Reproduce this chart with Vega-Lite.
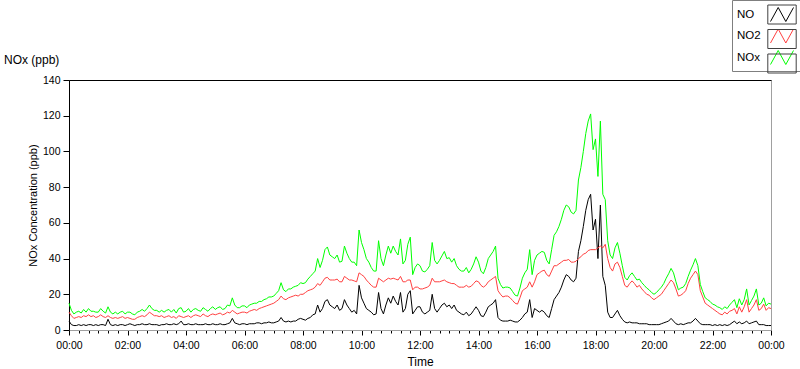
{
  "$schema": "https://vega.github.io/schema/vega-lite/v6.json",
  "autosize": {"type": "none"},
  "padding": {"left": 69, "top": 80, "right": 29, "bottom": 39},
  "width": 702,
  "height": 250,
  "background": "#ffffff",
  "config": {"view": {"stroke": "#a0a0a0", "strokeWidth": 1}, "font": "Liberation Sans"},
  "title": {"text": "NOx (ppb)", "anchor": "start", "frame": "group", "dx": -65, "offset": -79, "baseline": "bottom", "fontSize": 12, "fontWeight": "normal", "color": "#000000", "font": "Liberation Sans"},
  "data": {"values": [
    {"t":0,"NO":5,"NO2":10,"NOx":15},{"t":5,"NO":3,"NO2":8,"NOx":11},{"t":10,"NO":2.5,"NO2":6.5,"NOx":9},{"t":15,"NO":2.5,"NO2":7,"NOx":10},
    {"t":20,"NO":3,"NO2":7.5,"NOx":10.5},{"t":25,"NO":2.5,"NO2":7,"NOx":9.5},{"t":30,"NO":3,"NO2":8,"NOx":11.5},{"t":35,"NO":2.5,"NO2":7.5,"NOx":10},
    {"t":40,"NO":3,"NO2":8.5,"NOx":12},{"t":45,"NO":3,"NO2":7.5,"NOx":10.5},{"t":50,"NO":2.5,"NO2":8,"NOx":10.5},{"t":55,"NO":3,"NO2":7,"NOx":10},
    {"t":60,"NO":2.5,"NO2":7.5,"NOx":10},{"t":65,"NO":3,"NO2":8.5,"NOx":12},{"t":70,"NO":3,"NO2":7.5,"NOx":10.5},{"t":75,"NO":2.5,"NO2":7,"NOx":9.5},
    {"t":80,"NO":6,"NO2":8,"NOx":13},{"t":85,"NO":3,"NO2":7,"NOx":10},{"t":90,"NO":2.5,"NO2":6.5,"NOx":9},{"t":95,"NO":3,"NO2":7,"NOx":10},
    {"t":100,"NO":2.5,"NO2":6.5,"NOx":9},{"t":105,"NO":3,"NO2":7,"NOx":10},{"t":110,"NO":3,"NO2":7.5,"NOx":10.5},{"t":115,"NO":2.5,"NO2":6.5,"NOx":9},
    {"t":120,"NO":3,"NO2":7,"NOx":10},{"t":125,"NO":3.5,"NO2":6.5,"NOx":10},{"t":130,"NO":3,"NO2":6,"NOx":9},{"t":135,"NO":2.5,"NO2":6,"NOx":8.5},
    {"t":140,"NO":3,"NO2":7,"NOx":10},{"t":145,"NO":3,"NO2":7.5,"NOx":10.5},{"t":150,"NO":3.5,"NO2":8,"NOx":11.5},{"t":155,"NO":3,"NO2":7.5,"NOx":10.5},
    {"t":160,"NO":3,"NO2":8.5,"NOx":12},{"t":165,"NO":3.5,"NO2":10,"NOx":14},{"t":170,"NO":3,"NO2":9,"NOx":12},{"t":175,"NO":3,"NO2":8,"NOx":11},
    {"t":180,"NO":3,"NO2":8,"NOx":11},{"t":185,"NO":2.5,"NO2":7.5,"NOx":10},{"t":190,"NO":3,"NO2":8,"NOx":11},{"t":195,"NO":3,"NO2":7,"NOx":10},
    {"t":200,"NO":3.5,"NO2":7.5,"NOx":11},{"t":205,"NO":3,"NO2":8,"NOx":11.5},{"t":210,"NO":3,"NO2":7,"NOx":10},{"t":215,"NO":3.5,"NO2":7.5,"NOx":11.5},
    {"t":220,"NO":3,"NO2":6.5,"NOx":9.5},{"t":225,"NO":3.5,"NO2":8,"NOx":12},{"t":230,"NO":5,"NO2":7.5,"NOx":12.5},{"t":235,"NO":3,"NO2":7,"NOx":10},
    {"t":240,"NO":3,"NO2":7.5,"NOx":10.5},{"t":245,"NO":3.5,"NO2":8,"NOx":12},{"t":250,"NO":3,"NO2":7,"NOx":10},{"t":255,"NO":3,"NO2":8,"NOx":11.5},
    {"t":260,"NO":3.5,"NO2":8.5,"NOx":12},{"t":265,"NO":3,"NO2":8,"NOx":11},{"t":270,"NO":3,"NO2":7.5,"NOx":10.5},{"t":275,"NO":3,"NO2":9,"NOx":12.5},
    {"t":280,"NO":3.5,"NO2":8,"NOx":11.5},{"t":285,"NO":3,"NO2":7.5,"NOx":10.5},{"t":290,"NO":3,"NO2":8.5,"NOx":12},{"t":295,"NO":3.5,"NO2":9,"NOx":13},
    {"t":300,"NO":3,"NO2":8.5,"NOx":11.5},{"t":305,"NO":3,"NO2":9,"NOx":12.5},{"t":310,"NO":3.5,"NO2":9.5,"NOx":13},{"t":315,"NO":3,"NO2":8.5,"NOx":11.5},
    {"t":320,"NO":3,"NO2":9,"NOx":12},{"t":325,"NO":3.5,"NO2":10,"NOx":14},{"t":330,"NO":4,"NO2":9.5,"NOx":13.5},{"t":335,"NO":6.5,"NO2":11,"NOx":18},
    {"t":340,"NO":4,"NO2":10,"NOx":14},{"t":345,"NO":3.5,"NO2":9,"NOx":12.5},{"t":350,"NO":3,"NO2":9.5,"NOx":12.5},{"t":355,"NO":3.5,"NO2":10,"NOx":13.5},
    {"t":360,"NO":3.5,"NO2":10,"NOx":13.5},{"t":365,"NO":3,"NO2":9.5,"NOx":12.5},{"t":370,"NO":3.5,"NO2":10.5,"NOx":14},{"t":375,"NO":3.5,"NO2":11,"NOx":14.5},
    {"t":380,"NO":3.5,"NO2":11.5,"NOx":15},{"t":385,"NO":4,"NO2":11,"NOx":15},{"t":390,"NO":4,"NO2":12,"NOx":16},{"t":395,"NO":3.5,"NO2":12.5,"NOx":16},
    {"t":400,"NO":4,"NO2":13,"NOx":17},{"t":405,"NO":4,"NO2":13.5,"NOx":17.5},{"t":410,"NO":4.5,"NO2":14,"NOx":18.5},{"t":415,"NO":4,"NO2":14.5,"NOx":18.5},
    {"t":420,"NO":4,"NO2":15,"NOx":19},{"t":425,"NO":4.5,"NO2":16,"NOx":20.5},{"t":430,"NO":5,"NO2":17,"NOx":22},{"t":435,"NO":7,"NO2":19,"NOx":26.5},
    {"t":440,"NO":5,"NO2":17.5,"NOx":22.5},{"t":445,"NO":4.5,"NO2":17,"NOx":21.5},{"t":450,"NO":5,"NO2":18,"NOx":23},{"t":455,"NO":4.5,"NO2":18.5,"NOx":23},
    {"t":460,"NO":5,"NO2":19,"NOx":24},{"t":465,"NO":5,"NO2":19.5,"NOx":24.5},{"t":470,"NO":6,"NO2":19,"NOx":25},{"t":475,"NO":6.5,"NO2":20,"NOx":26.5},
    {"t":480,"NO":6,"NO2":20,"NOx":26},{"t":485,"NO":5.5,"NO2":21,"NOx":26.5},{"t":490,"NO":6.5,"NO2":22,"NOx":28.5},{"t":495,"NO":7,"NO2":22.5,"NOx":30},
    {"t":500,"NO":8.5,"NO2":23,"NOx":31.5},{"t":505,"NO":9,"NO2":24,"NOx":33},{"t":510,"NO":14,"NO2":26,"NOx":40},{"t":515,"NO":10,"NO2":25,"NOx":35},
    {"t":520,"NO":12,"NO2":27,"NOx":39},{"t":525,"NO":16,"NO2":29,"NOx":45},{"t":530,"NO":17,"NO2":29.5,"NOx":46.5},{"t":535,"NO":14,"NO2":28,"NOx":42},
    {"t":540,"NO":13,"NO2":28,"NOx":41},{"t":545,"NO":12,"NO2":28,"NOx":40},{"t":550,"NO":14,"NO2":28.5,"NOx":42},{"t":555,"NO":11,"NO2":27,"NOx":38},
    {"t":560,"NO":12,"NO2":27,"NOx":38.5},{"t":565,"NO":17,"NO2":30,"NOx":47},{"t":570,"NO":14,"NO2":29,"NOx":43},{"t":575,"NO":12,"NO2":28,"NOx":40},
    {"t":580,"NO":10,"NO2":28,"NOx":38},{"t":585,"NO":11,"NO2":27.5,"NOx":38},{"t":590,"NO":9,"NO2":27,"NOx":36},{"t":595,"NO":25,"NO2":32,"NOx":56},
    {"t":600,"NO":18,"NO2":31,"NOx":49},{"t":605,"NO":15,"NO2":30,"NOx":45},{"t":610,"NO":12,"NO2":28,"NOx":40},{"t":615,"NO":11,"NO2":26.5,"NOx":38},
    {"t":620,"NO":10,"NO2":25,"NOx":35},{"t":625,"NO":8.5,"NO2":24,"NOx":33},{"t":630,"NO":9,"NO2":24,"NOx":33},{"t":635,"NO":21,"NO2":29,"NOx":50},
    {"t":640,"NO":12,"NO2":28,"NOx":40},{"t":645,"NO":9,"NO2":27,"NOx":36},{"t":650,"NO":14,"NO2":28,"NOx":42},{"t":655,"NO":18,"NO2":29,"NOx":47},
    {"t":660,"NO":15,"NO2":28.5,"NOx":43},{"t":665,"NO":19,"NO2":29,"NOx":47},{"t":670,"NO":16,"NO2":28.5,"NOx":44},{"t":675,"NO":14,"NO2":28,"NOx":42},
    {"t":680,"NO":21,"NO2":30,"NOx":51},{"t":685,"NO":10,"NO2":27,"NOx":37},{"t":690,"NO":12,"NO2":27,"NOx":39},{"t":695,"NO":20,"NO2":28,"NOx":48},
    {"t":700,"NO":22,"NO2":28,"NOx":52},{"t":705,"NO":9,"NO2":22.5,"NOx":31},{"t":710,"NO":11,"NO2":24,"NOx":35},{"t":715,"NO":13,"NO2":24,"NOx":37},
    {"t":720,"NO":13,"NO2":23,"NOx":36},{"t":725,"NO":10,"NO2":23,"NOx":33},{"t":730,"NO":9,"NO2":23.5,"NOx":32.5},{"t":735,"NO":10,"NO2":24,"NOx":34},
    {"t":740,"NO":11,"NO2":25,"NOx":36},{"t":745,"NO":20,"NO2":29,"NOx":49},{"t":750,"NO":12,"NO2":27,"NOx":39},{"t":755,"NO":10,"NO2":27,"NOx":37},
    {"t":760,"NO":12,"NO2":27,"NOx":39},{"t":765,"NO":14,"NO2":27.5,"NOx":41.5},{"t":770,"NO":15,"NO2":28,"NOx":44},{"t":775,"NO":13,"NO2":27,"NOx":40},
    {"t":780,"NO":14,"NO2":26.5,"NOx":40.5},{"t":785,"NO":12,"NO2":26,"NOx":38},{"t":790,"NO":14,"NO2":26,"NOx":40},{"t":795,"NO":11,"NO2":25,"NOx":36},
    {"t":800,"NO":10,"NO2":24,"NOx":34},{"t":805,"NO":9,"NO2":24,"NOx":33},{"t":810,"NO":8.5,"NO2":24,"NOx":33},{"t":815,"NO":10,"NO2":25,"NOx":35},
    {"t":820,"NO":8,"NO2":24,"NOx":32},{"t":825,"NO":9,"NO2":24.5,"NOx":34},{"t":830,"NO":11,"NO2":26,"NOx":37},{"t":835,"NO":13,"NO2":27.5,"NOx":41},
    {"t":840,"NO":11,"NO2":27,"NOx":38},{"t":845,"NO":8,"NO2":25,"NOx":33},{"t":850,"NO":7.5,"NO2":24,"NOx":31.5},{"t":855,"NO":10,"NO2":25,"NOx":35},
    {"t":860,"NO":13,"NO2":27,"NOx":40},{"t":865,"NO":14,"NO2":28,"NOx":42},{"t":870,"NO":15,"NO2":29,"NOx":44},{"t":875,"NO":17,"NO2":30,"NOx":47},
    {"t":880,"NO":7,"NO2":22,"NOx":29},{"t":885,"NO":5.5,"NO2":20,"NOx":25.5},{"t":890,"NO":5,"NO2":18.5,"NOx":23.5},{"t":895,"NO":5,"NO2":19,"NOx":24},
    {"t":900,"NO":5,"NO2":19,"NOx":24},{"t":905,"NO":5.5,"NO2":18,"NOx":23.5},{"t":910,"NO":5,"NO2":16.5,"NOx":21.5},{"t":915,"NO":4.5,"NO2":15,"NOx":19.5},
    {"t":920,"NO":4.5,"NO2":14.5,"NOx":19},{"t":925,"NO":5.5,"NO2":18,"NOx":23.5},{"t":930,"NO":7,"NO2":22,"NOx":29},{"t":935,"NO":9,"NO2":23,"NOx":32},
    {"t":940,"NO":10,"NO2":24,"NOx":34},{"t":945,"NO":17,"NO2":27,"NOx":45},{"t":950,"NO":7,"NO2":24,"NOx":31},{"t":955,"NO":12,"NO2":27,"NOx":39},
    {"t":960,"NO":11,"NO2":31,"NOx":42},{"t":965,"NO":10,"NO2":32,"NOx":43},{"t":970,"NO":11,"NO2":33,"NOx":44},{"t":975,"NO":10,"NO2":33.5,"NOx":43.5},
    {"t":980,"NO":8,"NO2":31,"NOx":39},{"t":985,"NO":7,"NO2":30,"NOx":37},{"t":990,"NO":12,"NO2":33,"NOx":45},{"t":995,"NO":17,"NO2":36,"NOx":53},
    {"t":1000,"NO":19,"NO2":36,"NOx":55},{"t":1005,"NO":21,"NO2":37,"NOx":58},{"t":1010,"NO":24,"NO2":38,"NOx":62},{"t":1015,"NO":28,"NO2":39,"NOx":67},
    {"t":1020,"NO":31,"NO2":39,"NOx":70},{"t":1025,"NO":30,"NO2":39.5,"NOx":69},{"t":1030,"NO":28,"NO2":38,"NOx":66},{"t":1035,"NO":27,"NO2":38,"NOx":65},
    {"t":1040,"NO":29,"NO2":38.5,"NOx":67},{"t":1045,"NO":44,"NO2":40,"NOx":84},{"t":1050,"NO":50,"NO2":41,"NOx":91},{"t":1055,"NO":58,"NO2":42.5,"NOx":100},
    {"t":1060,"NO":67,"NO2":43,"NOx":110},{"t":1065,"NO":73,"NO2":44.5,"NOx":117},{"t":1070,"NO":76,"NO2":45,"NOx":121},{"t":1075,"NO":56,"NO2":45,"NOx":101},
    {"t":1080,"NO":62,"NO2":45,"NOx":107},{"t":1085,"NO":40,"NO2":46,"NOx":86},{"t":1090,"NO":70,"NO2":47,"NOx":117},{"t":1095,"NO":30,"NO2":46,"NOx":76},
    {"t":1100,"NO":25,"NO2":48,"NOx":73},{"t":1105,"NO":10,"NO2":40,"NOx":50},{"t":1110,"NO":7,"NO2":35,"NOx":42},{"t":1115,"NO":7,"NO2":33,"NOx":40},
    {"t":1120,"NO":9,"NO2":37,"NOx":46},{"t":1125,"NO":11,"NO2":38,"NOx":49},{"t":1130,"NO":8,"NO2":35,"NOx":43},{"t":1135,"NO":6,"NO2":30,"NOx":36},
    {"t":1140,"NO":4.5,"NO2":25,"NOx":29.5},{"t":1145,"NO":4,"NO2":24,"NOx":28},{"t":1150,"NO":4.5,"NO2":26,"NOx":30.5},{"t":1155,"NO":4,"NO2":27.5,"NOx":32},
    {"t":1160,"NO":4,"NO2":26,"NOx":30},{"t":1165,"NO":4,"NO2":24,"NOx":28},{"t":1170,"NO":3.5,"NO2":25,"NOx":28.5},{"t":1175,"NO":3.5,"NO2":23,"NOx":26.5},
    {"t":1180,"NO":3.5,"NO2":21.5,"NOx":25},{"t":1185,"NO":3.5,"NO2":20,"NOx":23.5},{"t":1190,"NO":3,"NO2":19.5,"NOx":22.5},{"t":1195,"NO":3,"NO2":18,"NOx":21},
    {"t":1200,"NO":3,"NO2":17,"NOx":20},{"t":1205,"NO":3,"NO2":18,"NOx":21},{"t":1210,"NO":3,"NO2":19,"NOx":22.5},{"t":1215,"NO":3.5,"NO2":20,"NOx":24},
    {"t":1220,"NO":4,"NO2":22,"NOx":26},{"t":1225,"NO":4.5,"NO2":24,"NOx":29},{"t":1230,"NO":5,"NO2":26,"NOx":31.5},{"t":1235,"NO":6.5,"NO2":28,"NOx":34.5},
    {"t":1240,"NO":5,"NO2":26.5,"NOx":32},{"t":1245,"NO":3.5,"NO2":23,"NOx":27},{"t":1250,"NO":3,"NO2":19,"NOx":22.5},{"t":1255,"NO":3.5,"NO2":19.5,"NOx":23.5},
    {"t":1260,"NO":3,"NO2":20.5,"NOx":24},{"t":1265,"NO":3.5,"NO2":22,"NOx":26},{"t":1270,"NO":4,"NO2":26,"NOx":30},{"t":1275,"NO":4,"NO2":29,"NOx":33.5},
    {"t":1280,"NO":5,"NO2":31,"NOx":36.5},{"t":1285,"NO":6.5,"NO2":33,"NOx":40},{"t":1290,"NO":5,"NO2":31,"NOx":36},{"t":1295,"NO":3.5,"NO2":22,"NOx":25.5},
    {"t":1300,"NO":3,"NO2":18.5,"NOx":21.5},{"t":1305,"NO":3,"NO2":15,"NOx":18},{"t":1310,"NO":3,"NO2":14,"NOx":17},{"t":1315,"NO":3,"NO2":13,"NOx":16},
    {"t":1320,"NO":2.5,"NO2":12,"NOx":14.5},{"t":1325,"NO":3,"NO2":11,"NOx":14},{"t":1330,"NO":2.5,"NO2":10,"NOx":13},{"t":1335,"NO":3,"NO2":9,"NOx":12.5},
    {"t":1340,"NO":2.5,"NO2":8.5,"NOx":11.5},{"t":1345,"NO":3,"NO2":10,"NOx":13},{"t":1350,"NO":2.5,"NO2":9,"NOx":12},{"t":1355,"NO":3,"NO2":10.5,"NOx":14},
    {"t":1360,"NO":4,"NO2":11,"NOx":15.5},{"t":1365,"NO":5,"NO2":12,"NOx":17},{"t":1370,"NO":3.5,"NO2":9,"NOx":12.5},{"t":1375,"NO":4.5,"NO2":13,"NOx":17.5},
    {"t":1380,"NO":3.5,"NO2":10,"NOx":14},{"t":1385,"NO":4,"NO2":13,"NOx":17},{"t":1390,"NO":5,"NO2":17,"NOx":23},{"t":1395,"NO":3.5,"NO2":10,"NOx":14},
    {"t":1400,"NO":4,"NO2":12,"NOx":16.5},{"t":1405,"NO":4.5,"NO2":14,"NOx":19},{"t":1410,"NO":5,"NO2":17,"NOx":23},{"t":1415,"NO":3,"NO2":11,"NOx":14},
    {"t":1420,"NO":3,"NO2":12,"NOx":15},{"t":1425,"NO":3,"NO2":14.5,"NOx":18},{"t":1430,"NO":2.5,"NO2":11,"NOx":13.5},{"t":1435,"NO":2.5,"NO2":12.5,"NOx":15},
    {"t":1440,"NO":2.5,"NO2":12,"NOx":14.5}
  ]},
  "transform": [{"fold": ["NO", "NO2", "NOx"], "as": ["series", "ppb"]}],
  "layer": [
    {
      "mark": {"type": "line", "strokeWidth": 1, "interpolate": "linear"},
      "encoding": {
        "x": {"field": "t", "type": "quantitative", "scale": {"domain": [0, 1440], "nice": false, "zero": false},
          "axis": {"orient": "bottom",
            "values": [0,20,40,60,80,100,120,140,160,180,200,220,240,260,280,300,320,340,360,380,400,420,440,460,480,500,520,540,560,580,600,620,640,660,680,700,720,740,760,780,800,820,840,860,880,900,920,940,960,980,1000,1020,1040,1060,1080,1100,1120,1140,1160,1180,1200,1220,1240,1260,1280,1300,1320,1340,1360,1380,1400,1420,1440],
            "labelExpr": "datum.value % 120 === 0 ? timeFormat(datetime(2000, 0, 1, 0, datum.value), '%H:%M') : ''",
            "tickSize": {"condition": {"test": "datum.value % 120 === 0", "value": 5}, "value": 3},
            "tickColor": "#000000", "domainColor": "#a0a0a0", "grid": false,
            "labelFont": "Liberation Sans", "labelFontSize": 10.5, "labelColor": "#000000", "labelPadding": 5, "labelOverlap": false, "labelFlush": false,
            "title": "Time", "titleFont": "Liberation Sans", "titleFontSize": 12, "titleFontWeight": "normal", "titleColor": "#000000", "titlePadding": 6}},
        "y": {"field": "ppb", "type": "quantitative", "scale": {"domain": [0, 140], "nice": false},
          "axis": {"values": [0,20,40,60,80,100,120,140], "tickCount": 8, "tickSize": 6, "tickColor": "#000000", "domainColor": "#000000", "grid": false,
            "labelFont": "Liberation Sans", "labelFontSize": 10.5, "labelColor": "#000000", "labelPadding": 3, "labelOverlap": false,
            "title": "NOx Concentration (ppb)", "titleFont": "Liberation Sans", "titleFontSize": 11, "titleFontWeight": "normal", "titleColor": "#000000", "titlePadding": 4}},
        "color": {"field": "series", "type": "nominal",
          "scale": {"range": ["#000000", "#ff4040", "#00ff00"]},
          "legend": {"orient": "none", "legendX": 663, "legendY": -80, "title": null,
            "symbolType": "M-1.15,0.7L-0.38,-0.7L0.38,0.7L1.15,-0.7",
            "symbolSize": 400, "symbolStrokeWidth": 1, "symbolFillColor": "transparent",
            "symbolOffset": 35.5, "labelOffset": -55.5, "labelFont": "Liberation Sans", "labelFontSize": 11.5, "labelColor": "#000000",
            "rowPadding": 1.5, "padding": 4, "strokeColor": "#7f7f7f", "fillColor": "#ffffff"}}
      }
    },
    {
      "transform": [{"filter": "datum.t === 0"}],
      "mark": {"type": "point", "opacity": 0, "color": "#404040"},
      "encoding": {
        "x": {"field": "t", "type": "quantitative", "axis": {"orient": "top", "ticks": false, "labels": false, "title": null, "domainColor": "#000000", "grid": false}},
        "y": {"field": "ppb", "type": "quantitative",
          "axis": {"values": [0,20,40,60,80,100,120,140], "tickCount": 8, "tickSize": 6, "tickColor": "#000000", "domainColor": "#000000", "grid": false,
            "labelFont": "Liberation Sans", "labelFontSize": 10.5, "labelColor": "#000000", "labelPadding": 3, "labelOverlap": false,
            "title": "NOx Concentration (ppb)", "titleFont": "Liberation Sans", "titleFontSize": 11, "titleFontWeight": "normal", "titleColor": "#000000", "titlePadding": 4}},
        "shape": {"field": "series", "type": "nominal",
          "scale": {"domain": ["NO", "NO2", "NOx"], "range": ["M-1.42,-0.95H1.42V0.95H-1.42Z", "M-1.42,-0.95H1.42V0.95H-1.42Z", "M-1.42,-0.95H1.42V0.95H-1.42Z"]},
          "legend": {"orient": "none", "legendX": 663, "legendY": -80, "title": null,
            "symbolSize": 400, "symbolStrokeWidth": 1, "symbolStrokeColor": "#404040", "symbolFillColor": "transparent", "symbolOpacity": 1,
            "symbolOffset": 35.5, "labelOffset": -55.5, "labelExpr": "''", "labelFont": "Liberation Sans", "labelFontSize": 11.5,
            "rowPadding": 1.5, "padding": 4}}
      }
    }
  ],
  "resolve": {"axis": {"x": "independent"}}
}
